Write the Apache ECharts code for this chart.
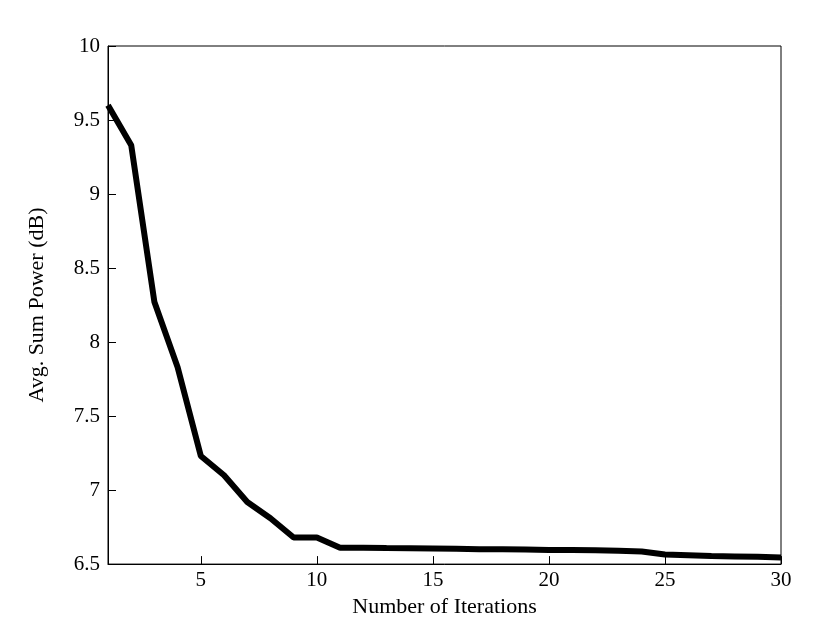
<!DOCTYPE html>
<html><head><meta charset="utf-8">
<script src="https://cdn.jsdelivr.net/npm/echarts@6/dist/echarts.min.js"></script>
<style>html,body{margin:0;padding:0;background:#fff}#c{width:831px;height:623px}</style>
</head><body><div id="c"></div>
<script>
const iterations = [1,2,3,4,5,6,7,8,9,10,11,12,13,14,15,16,17,18,19,20,21,22,23,24,25,26,27,28,29,30];
const avgSumPower = [9.60,9.33,8.27,7.83,7.23,7.10,6.92,6.81,6.68,6.68,6.61,6.61,6.608,6.607,6.605,6.603,6.601,6.60,6.598,6.596,6.595,6.594,6.59,6.585,6.565,6.56,6.555,6.552,6.549,6.545];
const xTicks = [5,10,15,20,25,30];
const font = 'Liberation Serif';
const chart = echarts.init(document.getElementById('c'));
chart.setOption({
  animation:false,
  grid:{left:108,right:50,top:46,bottom:55,show:true,borderColor:'#000',borderWidth:1},
  xAxis:{type:'value',min:1,max:30,name:'Number of Iterations',nameLocation:'middle',nameGap:22,
    nameTextStyle:{fontFamily:font,fontSize:22,color:'#000'},
    axisLine:{lineStyle:{color:'#000'}},
    axisTick:{inside:true,length:8,customValues:xTicks,lineStyle:{color:'#000'}},
    axisLabel:{customValues:xTicks,fontFamily:font,fontSize:21,color:'#000',margin:6},
    splitLine:{show:false}},
  yAxis:{type:'value',min:6.5,max:10,interval:0.5,name:'Avg. Sum Power (dB)',nameLocation:'middle',nameGap:60,
    nameTextStyle:{fontFamily:font,fontSize:22,color:'#000'},
    axisLine:{show:true,lineStyle:{color:'#000'}},
    axisTick:{inside:true,length:8,lineStyle:{color:'#000'}},
    axisLabel:{fontFamily:font,fontSize:21,color:'#000',margin:8,formatter:v=>String(+v.toFixed(1))},
    splitLine:{show:false}},
  series:[{type:'line',data:iterations.map((x,i)=>[x,avgSumPower[i]]),showSymbol:false,
    lineStyle:{color:'#000',width:6},clip:true}]
});
</script></body></html>
